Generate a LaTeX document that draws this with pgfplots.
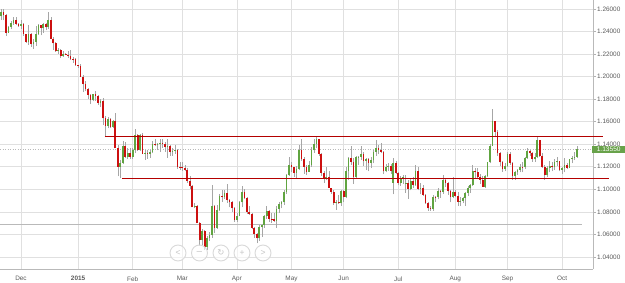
\documentclass[border=0pt]{standalone}
\usepackage{pgfplots}
\pgfplotsset{compat=1.18}
\usepackage{pgfplotstable}
\usepackage{fontspec}
\setmainfont{Liberation Sans}
\newfontfamily\dejavu{DejaVu Sans}
\definecolor{upgreen}{RGB}{96,164,64}
\definecolor{downred}{RGB}{204,16,16}
\definecolor{linered}{RGB}{180,0,0}
\definecolor{boxgreen}{RGB}{104,162,74}
\definecolor{txtgray}{RGB}{90,90,90}
\pgfplotstableread{
x o h l c
-8 1.2535 1.2600 1.2505 1.2575
-7 1.2575 1.2600 1.2500 1.2545
-6 1.2545 1.2555 1.2360 1.2390
-5 1.2390 1.2450 1.2385 1.2440
-4 1.2440 1.2490 1.2420 1.2475
-3 1.2475 1.2530 1.2460 1.2505
-2 1.2505 1.2530 1.2455 1.2470
-1 1.2470 1.2480 1.2440 1.2450
0 1.2450 1.2500 1.2425 1.2470
1 1.2470 1.2475 1.2360 1.2380
2 1.2380 1.2380 1.2300 1.2310
3 1.2310 1.2455 1.2280 1.2378
4 1.2378 1.2390 1.2265 1.2288
5 1.2288 1.2330 1.2245 1.2310
6 1.2310 1.2450 1.2270 1.2380
7 1.2380 1.2470 1.2370 1.2455
8 1.2455 1.2460 1.2365 1.2430
9 1.2430 1.2475 1.2390 1.2465
10 1.2465 1.2475 1.2410 1.2438
11 1.2438 1.2570 1.2420 1.2505
12 1.2505 1.2530 1.2335 1.2335
13 1.2335 1.2355 1.2240 1.2295
14 1.2295 1.2310 1.2220 1.2225
15 1.2225 1.2255 1.2205 1.2232
16 1.2232 1.2245 1.2165 1.2180
17 1.2180 1.2225 1.2175 1.2200
18 1.2200 1.2210 1.2190 1.2195
19 1.2195 1.2225 1.2165 1.2180
20 1.2180 1.2240 1.2150 1.2160
21 1.2160 1.2175 1.2125 1.2155
22 1.2155 1.2165 1.2095 1.2100
23 1.2100 1.2105 1.2080 1.2090
24 1.2090 1.2110 1.2000 1.2000
25 1.2000 1.2010 1.1860 1.1933
26 1.1933 1.1960 1.1870 1.1890
27 1.1890 1.1900 1.1800 1.1840
28 1.1840 1.1850 1.1755 1.1790
29 1.1790 1.1850 1.1780 1.1845
30 1.1845 1.1870 1.1785 1.1830
31 1.1830 1.1840 1.1750 1.1770
32 1.1770 1.1805 1.1730 1.1785
33 1.1785 1.1810 1.1570 1.1630
34 1.1630 1.1650 1.1460 1.1565
35 1.1565 1.1640 1.1540 1.1625
36 1.1625 1.1630 1.1540 1.1555
37 1.1555 1.1615 1.1540 1.1610
38 1.1610 1.1680 1.1365 1.1365
39 1.1365 1.1390 1.1115 1.1200
40 1.1200 1.1260 1.1098 1.1235
41 1.1235 1.1425 1.1225 1.1380
42 1.1380 1.1420 1.1280 1.1290
43 1.1290 1.1365 1.1265 1.1320
44 1.1320 1.1365 1.1270 1.1290
45 1.1290 1.1365 1.1270 1.1345
46 1.1345 1.1535 1.1320 1.1480
47 1.1480 1.1490 1.1340 1.1345
48 1.1345 1.1490 1.1340 1.1480
49 1.1480 1.1500 1.1310 1.1315
50 1.1315 1.1350 1.1260 1.1320
51 1.1320 1.1345 1.1270 1.1315
52 1.1315 1.1345 1.1280 1.1330
53 1.1330 1.1430 1.1320 1.1400
54 1.1400 1.1450 1.1380 1.1390
55 1.1390 1.1410 1.1345 1.1400
56 1.1400 1.1450 1.1330 1.1410
57 1.1410 1.1450 1.1370 1.1405
58 1.1405 1.1420 1.1330 1.1375
59 1.1375 1.1450 1.1280 1.1380
60 1.1380 1.1390 1.1300 1.1330
61 1.1330 1.1365 1.1300 1.1340
62 1.1340 1.1390 1.1315 1.1350
63 1.1350 1.1355 1.1180 1.1200
64 1.1200 1.1245 1.1175 1.1195
65 1.1195 1.1240 1.1160 1.1185
66 1.1185 1.1220 1.1160 1.1175
67 1.1175 1.1190 1.1060 1.1075
68 1.1075 1.1115 1.1000 1.1030
69 1.1030 1.1040 1.0840 1.0840
70 1.0840 1.0880 1.0830 1.0850
71 1.0850 1.0860 1.0700 1.0700
72 1.0700 1.0710 1.0500 1.0550
73 1.0550 1.0650 1.0495 1.0630
74 1.0630 1.0640 1.0460 1.0490
75 1.0490 1.0590 1.0460 1.0570
76 1.0570 1.0620 1.0540 1.0595
77 1.0595 1.1040 1.0570 1.0850
78 1.0850 1.0860 1.0610 1.0660
79 1.0660 1.0860 1.0650 1.0820
80 1.0820 1.0960 1.0810 1.0940
81 1.0940 1.0990 1.0890 1.0930
82 1.0930 1.0990 1.0910 1.0965
83 1.0965 1.1050 1.0880 1.0905
84 1.0905 1.0910 1.0840 1.0885
85 1.0885 1.0895 1.0800 1.0830
86 1.0830 1.0840 1.0710 1.0730
87 1.0730 1.0790 1.0710 1.0765
88 1.0765 1.0900 1.0760 1.0885
89 1.0885 1.1030 1.0840 1.0975
90 1.0975 1.1000 1.0910 1.0925
91 1.0925 1.0935 1.0780 1.0800
92 1.0800 1.0850 1.0770 1.0785
93 1.0785 1.0790 1.0650 1.0660
94 1.0660 1.0670 1.0570 1.0600
95 1.0600 1.0610 1.0520 1.0565
96 1.0565 1.0680 1.0540 1.0665
97 1.0665 1.0690 1.0580 1.0685
98 1.0685 1.0770 1.0660 1.0760
99 1.0760 1.0850 1.0740 1.0805
100 1.0805 1.0815 1.0710 1.0740
101 1.0740 1.0790 1.0700 1.0735
102 1.0735 1.0790 1.0710 1.0720
103 1.0720 1.0850 1.0660 1.0825
104 1.0825 1.0890 1.0790 1.0870
105 1.0870 1.0900 1.0830 1.0885
106 1.0885 1.0990 1.0860 1.0975
107 1.0975 1.1140 1.0960 1.1125
108 1.1125 1.1290 1.1120 1.1220
109 1.1220 1.1240 1.1150 1.1195
110 1.1195 1.1200 1.1110 1.1145
111 1.1145 1.1205 1.1100 1.1180
112 1.1180 1.1390 1.1170 1.1350
113 1.1350 1.1445 1.1250 1.1265
114 1.1265 1.1290 1.1140 1.1200
115 1.1200 1.1220 1.1125 1.1155
116 1.1155 1.1255 1.1150 1.1215
117 1.1215 1.1375 1.1200 1.1345
118 1.1345 1.1445 1.1325 1.1405
119 1.1405 1.1467 1.1370 1.1445
120 1.1445 1.1450 1.1300 1.1315
121 1.1315 1.1325 1.1120 1.1145
122 1.1145 1.1165 1.1060 1.1095
123 1.1095 1.1200 1.1080 1.1105
124 1.1105 1.1160 1.1010 1.1010
125 1.1010 1.1015 1.0960 1.0980
126 1.0980 1.0990 1.0865 1.0875
127 1.0875 1.0905 1.0820 1.0890
128 1.0890 1.0950 1.0870 1.0875
129 1.0875 1.0990 1.0850 1.0985
130 1.0985 1.0990 1.0890 1.0930
131 1.0930 1.1195 1.0920 1.1160
132 1.1160 1.1290 1.1080 1.1275
133 1.1275 1.1380 1.1220 1.1245
134 1.1245 1.1280 1.1050 1.1110
135 1.1110 1.1295 1.1100 1.1285
136 1.1285 1.1300 1.1215 1.1290
137 1.1290 1.1385 1.1260 1.1315
138 1.1315 1.1335 1.1210 1.1255
139 1.1255 1.1280 1.1170 1.1265
140 1.1265 1.1280 1.1160 1.1235
141 1.1235 1.1290 1.1190 1.1260
142 1.1260 1.1345 1.1230 1.1330
143 1.1330 1.1435 1.1300 1.1370
144 1.1370 1.1390 1.1310 1.1350
145 1.1350 1.1410 1.1320 1.1335
146 1.1335 1.1340 1.1135 1.1160
147 1.1160 1.1225 1.1150 1.1200
148 1.1200 1.1235 1.1165 1.1205
149 1.1205 1.1225 1.1135 1.1165
150 1.1060 1.1280 1.0955 1.1235
151 1.1235 1.1250 1.1135 1.1145
152 1.1145 1.1150 1.1035 1.1055
153 1.1055 1.1120 1.1030 1.1090
154 1.1090 1.1125 1.1045 1.1105
155 1.1050 1.1125 1.0970 1.1060
156 1.1060 1.1080 1.0915 1.1005
157 1.1005 1.1100 1.0990 1.1075
158 1.1075 1.1110 1.1010 1.1040
159 1.1040 1.1215 1.1030 1.1160
160 1.1160 1.1200 1.0990 1.1005
161 1.1005 1.1060 1.0955 1.1010
162 1.1010 1.1035 1.0940 1.0950
163 1.0950 1.0960 1.0870 1.0880
164 1.0880 1.0890 1.0810 1.0830
165 1.0830 1.0855 1.0810 1.0825
166 1.0825 1.0950 1.0810 1.0935
167 1.0935 1.0945 1.0890 1.0930
168 1.0930 1.1010 1.0910 1.0985
169 1.0985 1.0990 1.0925 1.0980
170 1.0980 1.1130 1.0960 1.1085
171 1.1085 1.1090 1.1020 1.1060
172 1.1060 1.1065 1.0950 1.0985
173 1.0985 1.0990 1.0885 1.0935
174 1.0935 1.1110 1.0920 1.0980
175 1.0980 1.0990 1.0930 1.0945
176 1.0945 1.0975 1.0850 1.0890
177 1.0890 1.0935 1.0850 1.0900
178 1.0900 1.0930 1.0875 1.0925
179 1.0925 1.0975 1.0850 1.0970
180 1.0970 1.1030 1.0940 1.1015
181 1.1015 1.1050 1.0970 1.1040
182 1.1040 1.1215 1.1030 1.1160
183 1.1160 1.1190 1.1100 1.1150
184 1.1150 1.1190 1.1090 1.1105
185 1.1105 1.1135 1.1050 1.1085
186 1.1085 1.1115 1.1020 1.1025
187 1.1025 1.1130 1.1015 1.1120
188 1.1120 1.1245 1.1110 1.1240
189 1.1240 1.1400 1.1230 1.1385
190 1.1385 1.1714 1.1385 1.1610
191 1.1610 1.1610 1.1460 1.1510
192 1.1510 1.1530 1.1300 1.1320
193 1.1320 1.1330 1.1205 1.1240
194 1.1240 1.1250 1.1155 1.1180
195 1.1180 1.1230 1.1160 1.1210
196 1.1210 1.1330 1.1200 1.1315
197 1.1315 1.1330 1.1220 1.1230
198 1.1230 1.1245 1.1085 1.1120
199 1.1120 1.1165 1.1085 1.1150
200 1.1150 1.1180 1.1130 1.1170
201 1.1170 1.1225 1.1150 1.1200
202 1.1200 1.1245 1.1150 1.1195
203 1.1195 1.1285 1.1180 1.1275
204 1.1275 1.1370 1.1270 1.1340
205 1.1340 1.1350 1.1300 1.1320
206 1.1320 1.1330 1.1245 1.1265
207 1.1265 1.1320 1.1245 1.1290
208 1.1290 1.1460 1.1275 1.1435
209 1.1435 1.1440 1.1290 1.1300
210 1.1300 1.1320 1.1185 1.1195
211 1.1195 1.1215 1.1085 1.1125
212 1.1125 1.1205 1.1105 1.1190
213 1.1190 1.1250 1.1150 1.1205
214 1.1205 1.1245 1.1160 1.1195
215 1.1195 1.1265 1.1175 1.1240
216 1.1240 1.1290 1.1205 1.1250
217 1.1250 1.1255 1.1160 1.1175
218 1.1175 1.1200 1.1135 1.1190
219 1.1190 1.1275 1.1150 1.1215
220 1.1215 1.1235 1.1180 1.1190
221 1.1190 1.1270 1.1185 1.1265
222 1.1265 1.1295 1.1230 1.1280
223 1.1280 1.1335 1.1260 1.1290
224 1.1290 1.1385 1.1280 1.1355
}\eurusd
\begin{document}
\begin{tikzpicture}
\path[use as bounding box] (0pt,-14pt) rectangle (625pt,269pt);
\begin{axis}[
  at={(0pt,0pt)}, anchor=south west,
  scale only axis, width=593pt, height=269pt,
  xmin=-8.46, xmax=230.46, ymin=1.0293, ymax=1.268,
  clip=false,
  axis x line*=bottom, axis y line*=right,
  axis line style={draw=gray!55, line width=0.6pt},
  xtick={0,23,45,65,87,109,130,152,175,196,218},
  xticklabels={Dec,\textbf{2015},Feb,Mar,Apr,May,Jun,Jul,Aug,Sep,Oct},
  ytick={1.04,1.06,1.08,1.10,1.12,1.14,1.16,1.18,1.20,1.22,1.24,1.26},
  xtick style={draw=none},
  ytick style={draw=gray!60, line width=0.5pt},
  tick align=outside, major tick length=3pt,
  grid=major,
  major grid style={draw=gray!24, line width=0.6pt},
  tick label style={font=\fontsize{6.4}{7}\selectfont, text=txtgray},
  xticklabel style={yshift=-1pt},
  yticklabel style={inner sep=1pt, /pgf/number format/fixed, /pgf/number format/fixed zerofill, /pgf/number format/precision=5, /pgf/number format/assume math mode=true},
]
% reference lines
\addplot[gray!55, line width=0.7pt, forget plot] coordinates {(-8.46,1.0685) (226,1.0685)};
\addplot[gray!55, dotted, line width=0.5pt, forget plot] coordinates {(-8.46,1.1355) (230.46,1.1355)};
% wicks
\addplot[draw=none, mark=none, forget plot,
  error bars/.cd, y dir=plus, y explicit, error mark=none,
  error bar style={draw=gray!70, line width=0.5pt}]
  table[x=x, y=l, y error expr=\thisrow{h}-\thisrow{l}] {\eurusd};
% up bodies
\addplot[draw=none, mark=none, forget plot,
  restrict expr to domain={\thisrow{c}-\thisrow{o}}{0:1},
  error bars/.cd, y dir=plus, y explicit, error mark=none,
  error bar style={draw=upgreen, line width=1.7pt}]
  table[x=x, y=o, y error expr=\thisrow{c}-\thisrow{o}] {\eurusd};
% down bodies
\addplot[draw=none, mark=none, forget plot,
  restrict expr to domain={\thisrow{c}-\thisrow{o}}{-1:-0.00001},
  error bars/.cd, y dir=plus, y explicit, error mark=none,
  error bar style={draw=downred, line width=1.7pt}]
  table[x=x, y=c, y error expr=\thisrow{o}-\thisrow{c}] {\eurusd};
% support / resistance
\addplot[linered, line width=1.1pt, forget plot] coordinates {(33.8,1.147) (234.5,1.147)};
\addplot[linered, line width=1.1pt, forget plot] coordinates {(40.7,1.110) (236.8,1.110)};
\end{axis}
% current price label
\node[fill=boxgreen, text=white, inner xsep=0pt, inner ysep=1.5pt, anchor=west,
  minimum width=33pt, align=center,
  font=\fontsize{6.6}{7}\selectfont] at (592pt,119.5pt) {1.13550};
% navigation buttons
\foreach \cx/\sym in {178/{<}, 199.5/{\dejavu −}, 221/{\dejavu ↻}, 242/{+}, 263/{>}} {
  \draw[gray!30, line width=0.9pt, fill=white, fill opacity=0.6] (\cx pt,16pt) circle (8pt);
  \node[text=gray!45, font=\fontsize{8.5}{8.5}\selectfont, inner sep=0pt] at (\cx pt,16pt) {\sym};
}
\end{tikzpicture}
\end{document}
